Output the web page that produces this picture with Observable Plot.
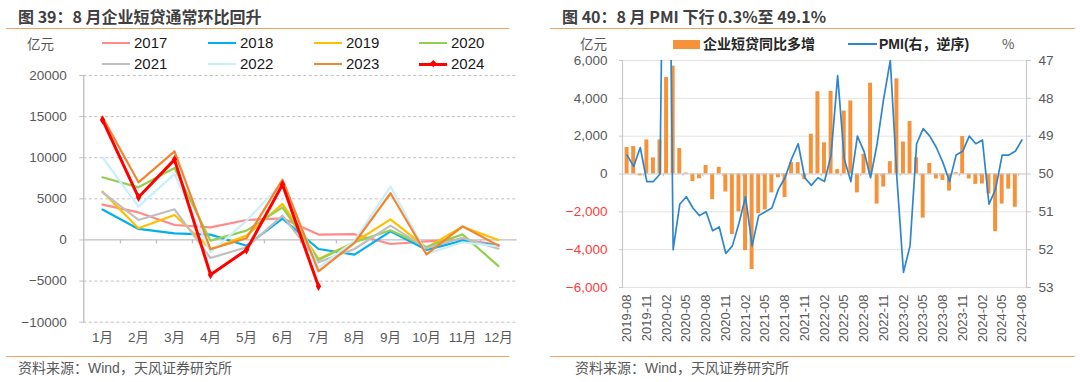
<!DOCTYPE html>
<html><head><meta charset="utf-8">
<script src="https://cdn.jsdelivr.net/npm/d3@7"></script>
<script src="https://cdn.jsdelivr.net/npm/@observablehq/plot@0.6"></script>
<style>
body{margin:0;width:1080px;height:382px;position:relative;background:#fff;overflow:hidden;font-family:"Liberation Sans","Noto Sans CJK SC",sans-serif}
.abs{position:absolute;white-space:nowrap}
.title{font-family:"Noto Sans CJK SC","Liberation Sans",sans-serif;font-weight:bold;font-size:16px;color:#404040;line-height:20px}
.hr{position:absolute;height:0;border-top:1.5px solid #F4A261}
.src{font-family:"Liberation Sans","Noto Sans CJK SC",sans-serif;font-size:14px;color:#595959;line-height:18px}
.unit{font-size:13.5px;color:#595959;font-family:"Noto Sans CJK SC",sans-serif;line-height:16px}
.leg{display:flex;align-items:center;font-size:15px;color:#1a1a1a;line-height:18px}
.leg2{display:flex;align-items:center;font-size:14px;font-weight:bold;color:#262626;line-height:18px;font-family:"Liberation Sans","Noto Sans CJK SC",sans-serif}
.sw{width:28px;height:2.4px;margin-right:4px;position:relative}
</style></head><body>
<div id="root"></div>
<script>
// ---------- Left chart data ----------
const months = ["1月","2月","3月","4月","5月","6月","7月","8月","9月","10月","11月","12月"];
const years = ["2017","2018","2019","2020","2021","2022","2023","2024"];
const v2017 = [4300, 3350, 1820, 1540, 2430, 2630, 650, 700, -490, -160, 40, -600];
const v2018 = [3700, 1340, 810, 650, -700, 2600, -1100, -1780, 1050, -1200, -80, -700];
const v2019 = [5880, 1420, 3040, -1100, 530, 4380, -2310, -280, 2500, -950, 1600, 0];
const v2020 = [7620, 6400, 8760, -80, 1130, 3970, -2430, -280, 1180, -850, 680, -3180];
const v2021 = [5800, 2430, 3730, -2190, -890, 2960, -2720, -1100, 1740, -1000, 250, -1050];
const v2022 = [10050, 4050, 8030, -1500, 2350, 6970, -3400, -80, 6490, -1700, -280, -770];
const v2023 = [14920, 7010, 10780, -1130, 200, 7340, -3810, -350, 5680, -1760, 1660, -690];
const v2024 = [14600, 5190, 9770, -4220, -1220, 6730, -5630];
const leftTicks = [-10000, -5000, 0, 5000, 10000, 15000, 20000];
const yearColors = ["#FF8A8A","#00B0F0","#FFC000","#92D050","#BFBFBF","#C9EEFC","#F4852F","#FF0000"];

// ---------- Right chart data ----------
const periods = ["2019-08","2019-09","2019-10","2019-11","2019-12",
"2020-01","2020-02","2020-03","2020-04","2020-05","2020-06","2020-07","2020-08","2020-09","2020-10","2020-11","2020-12",
"2021-01","2021-02","2021-03","2021-04","2021-05","2021-06","2021-07","2021-08","2021-09","2021-10","2021-11","2021-12",
"2022-01","2022-02","2022-03","2022-04","2022-05","2022-06","2022-07","2022-08","2022-09","2022-10","2022-11","2022-12",
"2023-01","2023-02","2023-03","2023-04","2023-05","2023-06","2023-07","2023-08","2023-09","2023-10","2023-11","2023-12",
"2024-01","2024-02","2024-03","2024-04","2024-05","2024-06","2024-07","2024-08"];
const loanDiff = [1400, 1450, -100, 1800, 850,
 1800, 5100, 5700, 1350, 50, -400, -250, 450, -1350, 350, -950, -3200,
 -2000, -4050, -5050, -2100, -1900, -1000, -200, -1250, 600, 600, -300, 2100,
 4350, 1650, 4370, 230, 3330, 3860, -1000, 1040, 4800, -1590, -690, 650,
 5030, 1690, 2770, 860, -2330, 560, -260, -340, -900, 70, 1980, -260,
 -550, -530, -1060, -3050, -1590, -800, -1760];
const pmi = [49.5, 49.8, 49.3, 50.2, 50.2,
 50.0, 35.7, 52.0, 50.8, 50.6, 50.9, 51.1, 51.0, 51.5, 51.4, 52.1, 51.9,
 51.3, 50.6, 51.9, 51.1, 51.0, 50.9, 50.4, 50.1, 49.6, 49.2, 50.1, 50.3,
 50.1, 50.2, 49.5, 47.4, 49.6, 50.2, 49.0, 49.4, 50.1, 49.2, 48.0, 47.0,
 50.1, 52.6, 51.9, 49.2, 48.8, 49.0, 49.3, 49.7, 50.2, 49.5, 49.4, 49.0,
 49.2, 49.1, 50.8, 50.4, 49.5, 49.5, 49.4, 49.1];
const rightTicks = [-6000, -4000, -2000, 0, 2000, 4000, 6000];
const pmiTicks = [47, 48, 49, 50, 51, 52, 53];
const periodLabels = periods.filter((d, i) => i % 3 === 0);

const root = document.getElementById("root");
function add(html){ const t = document.createElement("div"); t.innerHTML = html; while (t.firstChild) root.appendChild(t.firstChild); }

// ---------- Static texts ----------
add(`<div class="abs title" style="left:18px;top:6px">图 39：8 月企业短贷通常环比回升</div>`);
add(`<div class="hr" style="left:6px;top:28px;width:503px"></div>`);
add(`<div class="abs title" style="left:562px;top:6px">图 40：8 月 PMI 下行 0.3%至 49.1%</div>`);
add(`<div class="hr" style="left:550px;top:28px;width:525px"></div>`);
add(`<div class="hr" style="left:6px;top:356px;width:503px"></div>`);
add(`<div class="abs src" style="left:18px;top:359px">资料来源：Wind，天风证券研究所</div>`);
add(`<div class="hr" style="left:550px;top:356px;width:525px"></div>`);
add(`<div class="abs src" style="left:575px;top:359px">资料来源：Wind，天风证券研究所</div>`);
add(`<div class="abs unit" style="left:27px;top:35px">亿元</div>`);
add(`<div class="abs unit" style="left:580px;top:35px">亿元</div>`);
add(`<div class="abs unit" style="left:1002px;top:35px">%</div>`);

// left legend
const legX = [102, 208, 314, 419], legY = [34, 55];
years.forEach((y, i) => {
  const x = legX[i % 4], top = legY[Math.floor(i / 4)];
  const isLast = y === "2024";
  const marker = isLast ? `<div style="position:absolute;left:11.5px;top:-2px;width:4.5px;height:4.5px;background:#FF0000;transform:rotate(45deg)"></div>` : "";
  add(`<div class="abs leg" style="left:${x}px;top:${top}px"><div class="sw" style="background:${yearColors[i]};height:${isLast ? 3 : 2.4}px">${marker}</div>${y}</div>`);
});
// right legend
add(`<div class="abs leg2" style="left:673px;top:35px"><div style="width:27px;height:9px;background:#F7923A;margin-right:3px"></div>企业短贷同比多增</div>`);
add(`<div class="abs leg2" style="left:848px;top:35px"><div style="width:29px;height:2px;background:#2F86CC;margin-right:2px"></div>PMI(右，逆序)</div>`);

// ---------- Left chart ----------
const rows = [v2017, v2018, v2019, v2020, v2021, v2022, v2023, v2024].flatMap((arr, k) =>
  arr.map((v, i) => ({year: years[k], month: months[i], value: v})));
const others = rows.filter(d => d.year !== "2024");
const r2024 = rows.filter(d => d.year === "2024");
const LW = 540, LH = 290, LML = 83.3, LMR = 23.3;
const lband = (LW - LML - LMR) / months.length;

const left = Plot.plot({
  width: LW, height: LH,
  marginTop: 15, marginBottom: 28.3, marginLeft: LML, marginRight: LMR,
  style: {fontFamily: '"Liberation Sans","Noto Sans CJK SC",sans-serif', fontSize: "13px", color: "#595959", background: "transparent", overflow: "visible"},
  x: {type: "band", domain: months, padding: 0},
  y: {domain: [-10000, 20000]},
  color: {domain: years, range: yearColors},
  marks: [
    Plot.gridY(leftTicks.filter(d => d !== 0), {stroke: "#BFBFBF", strokeOpacity: 1, strokeDasharray: "3,2.5"}),
    Plot.ruleY([0], {stroke: "#BFBFBF", strokeWidth: 1.3}),
    Plot.ruleX(months.slice(1), {x: d => d, y1: 0, y2: -480, dx: -lband / 2, stroke: "#BFBFBF", strokeWidth: 1.3}),
    Plot.frame({anchor: "left", stroke: "#BFBFBF", strokeWidth: 1.3}),
    Plot.axisY({ticks: leftTicks, tickFormat: d3.format("d"), tickSize: 4, tickPadding: 13, stroke: "#BFBFBF", fill: "#595959", fontSize: 13.5, label: null}),
    Plot.axisX({tickSize: 0, tickPadding: 10, fill: "#595959", fontSize: 13.5, label: null}),
    Plot.line(others, {x: "month", y: "value", z: "year", stroke: "year", strokeWidth: 2.2}),
    Plot.line(r2024, {x: "month", y: "value", stroke: "#FF0000", strokeWidth: 3}),
    Plot.dot(r2024, {x: "month", y: "value", symbol: "diamond", r: 2.8, fill: "#FF0000"})
  ]
});
left.style.position = "absolute"; left.style.left = "0px"; left.style.top = "60px";
root.appendChild(left);

// ---------- Right chart ----------
const bars = loanDiff.map((v, i) => ({period: periods[i], value: v}));
const pmiRows = pmi.map((v, i) => ({period: periods[i], pmi: v}));
const pmiToLeft = p => (50 - p) * 2000; // right axis (inverted 47..53) mapped onto left axis units
const RW = 540, RH = 300, RML = 82, RMR = 54;
const rstep = (RW - RML - RMR) / (periods.length + 0.4);

const right = Plot.plot({
  width: RW, height: RH,
  marginTop: 10, marginBottom: 63, marginLeft: RML, marginRight: RMR,
  style: {fontFamily: '"Liberation Sans","Noto Sans CJK SC",sans-serif', fontSize: "13px", color: "#595959", background: "transparent", overflow: "visible"},
  x: {type: "band", domain: periods, padding: 0.4},
  y: {domain: [-6000, 6000]},
  marks: [
    Plot.gridY(rightTicks.filter(d => d !== 0), {stroke: "#E3E3E3", strokeOpacity: 1}),
    Plot.barY(bars, {x: "period", y: "value", fill: "#F7923A"}),
    Plot.ruleY([0], {stroke: "#C8C8C8", strokeWidth: 1.2}),
    Plot.ruleX(periodLabels.slice(1), {x: d => d, y1: 0, y2: -150, dx: -rstep / 2, stroke: "#C8C8C8", strokeWidth: 1.2}),
    Plot.line(pmiRows, {x: "period", y: d => pmiToLeft(d.pmi), stroke: "#2F86CC", strokeWidth: 1.7, clip: true}),
    Plot.frame({anchor: "left", stroke: "#C8C8C8", strokeWidth: 1.2}),
    Plot.frame({anchor: "right", stroke: "#C8C8C8", strokeWidth: 1.2}),
    Plot.axisY({ticks: rightTicks.filter(d => d >= 0), tickFormat: d3.format(","), tickSize: 3, tickPadding: 12, stroke: "#C8C8C8", fill: "#595959", fontSize: 13.5, label: null}),
    Plot.axisY({ticks: rightTicks.filter(d => d < 0), tickFormat: d3.format(","), tickSize: 3, tickPadding: 12, stroke: "#C8C8C8", fill: "#FF3B3B", fontSize: 13.5, label: null}),
    Plot.axisY({anchor: "right", ticks: pmiTicks.map(pmiToLeft), tickFormat: d => String(50 - d / 2000), tickSize: 4, tickPadding: 8, stroke: "#C8C8C8", fill: "#595959", fontSize: 13.5, label: null}),
    Plot.axisX({ticks: periodLabels, tickRotate: -90, tickSize: 0, tickPadding: 7, fill: "#595959", fontSize: 13, label: null})
  ]
});
right.style.position = "absolute"; right.style.left = "540px"; right.style.top = "50px";
root.appendChild(right);
</script>
</body></html>
